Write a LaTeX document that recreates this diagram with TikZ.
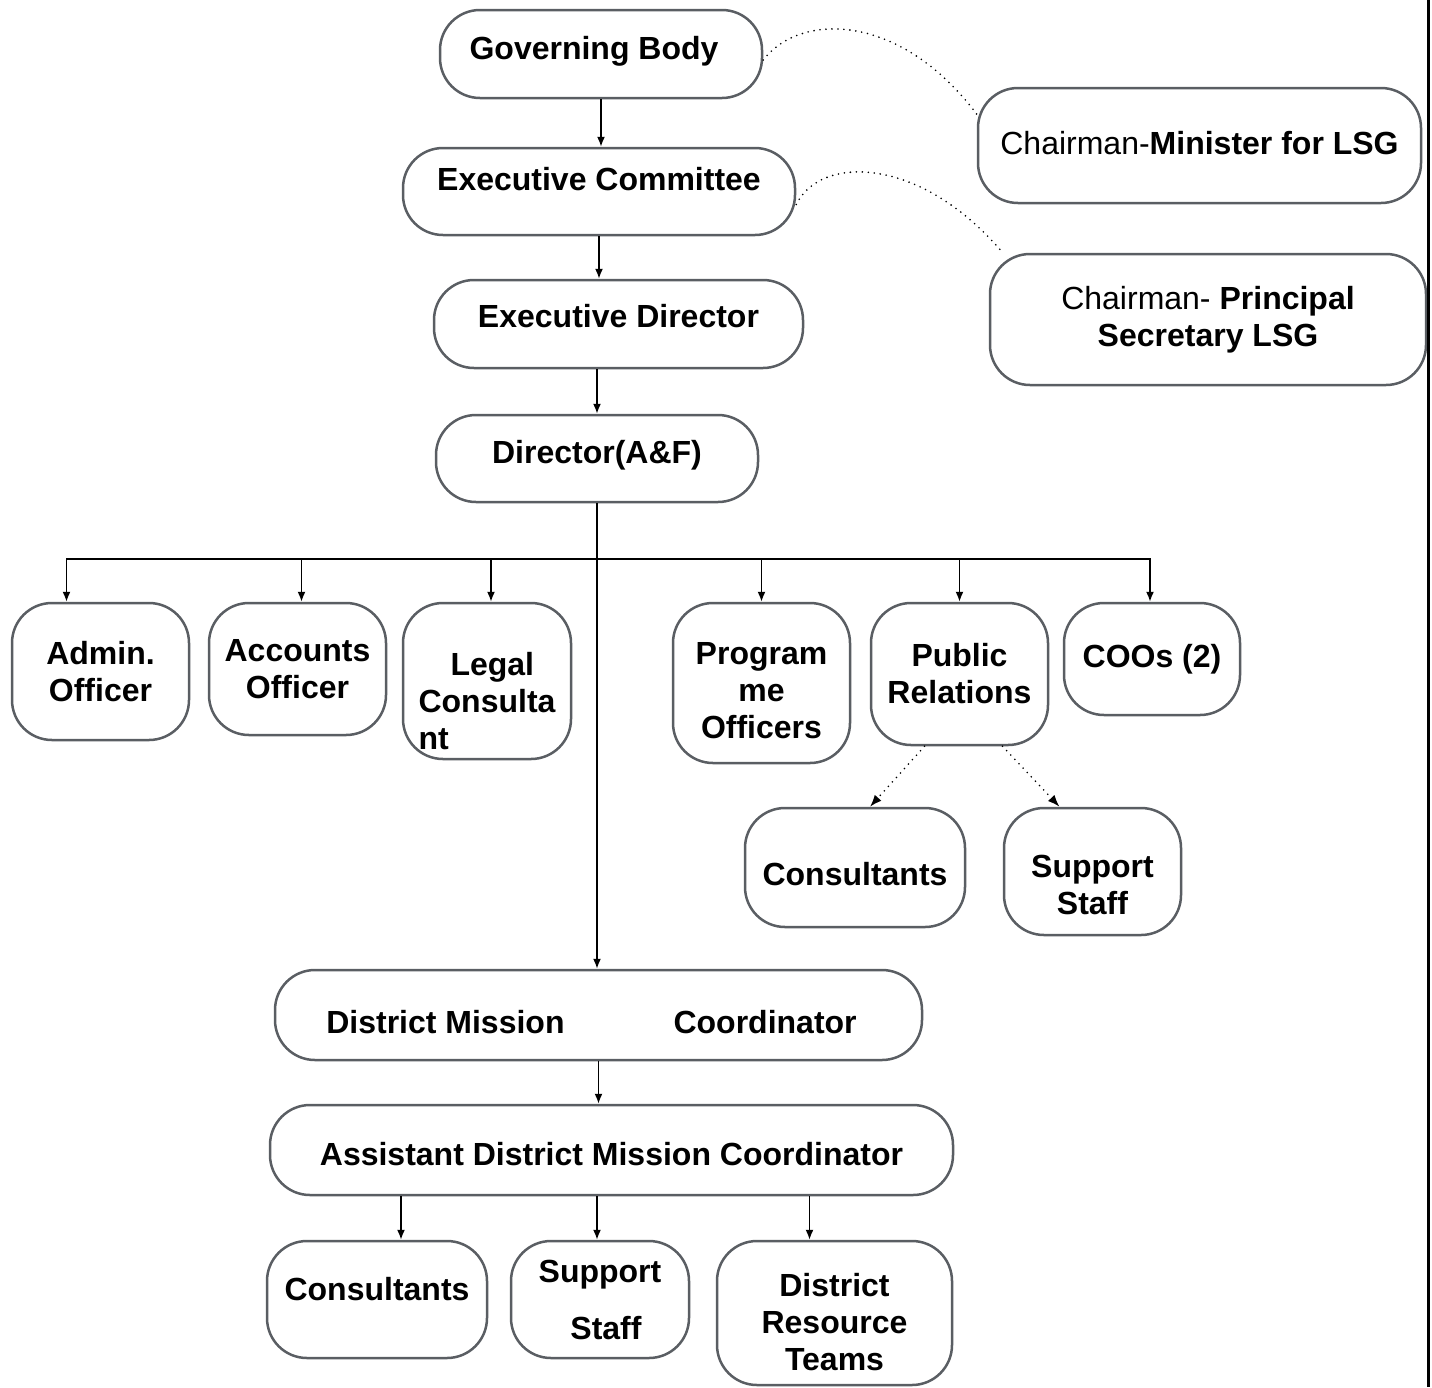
\documentclass[tikz,border=0pt]{standalone}
\usepackage{fontspec}
\setmainfont{Liberation Sans}
\usetikzlibrary{arrows.meta}
\definecolor{boxline}{HTML}{5A5E63}

\begin{document}
\begin{tikzpicture}[x=1pt,y=-1pt,
  every node/.style={font=\fontsize{32}{37}\selectfont\bfseries},
  box/.style={draw=boxline,line width=2.5pt,rounded corners=40pt,inner sep=0pt,align=center},
  one/.style={text height=24pt,text depth=7pt},
  arr/.style={-{Latex[length=10pt,width=8pt]},line width=1.6pt},
  dotarr/.style={-{Latex[length=12pt,width=9pt]},line width=1.8pt,line cap=round,dash pattern=on 0pt off 6pt},
  dotlink/.style={line width=1.8pt,line cap=round,dash pattern=on 0pt off 6pt}]

\useasboundingbox (0,0) rectangle (1432,1387);

\node[box,one,text depth=13pt,minimum width=322pt,minimum height=88pt] (gb) at (601,54) {\hspace*{-14pt}Governing Body};
\node[box,one,text depth=26pt,minimum width=392pt,minimum height=87pt] (ec) at (599,191.5) {Executive Committee};
\node[box,one,text depth=17pt,minimum width=369pt,minimum height=88pt] (ed) at (618.5,324) {Executive Director};
\node[box,one,text depth=14pt,minimum width=322pt,minimum height=87pt] (dir) at (597,458.5) {Director(A\&F)};

\node[box,one,minimum width=443pt,minimum height=115pt] (cm) at (1199.5,145.5) {\textmd{Chairman-}Minister for LSG};
\node[box,minimum width=436pt,minimum height=131pt] (ps) at (1208,319.5) {\textmd{Chairman-} Principal\\Secretary LSG};

\coordinate (bus) at (600,559);
\node[box,minimum width=177pt,minimum height=137pt] (ao) at (100.5,671.5) {Admin.\\Officer};
\node[box,minimum width=177pt,minimum height=132pt] (acc) at (297.5,669) {Accounts\\Officer};
\node[box,align=left,minimum width=168pt,minimum height=156pt] (lc) at (487,681) {\rule{0pt}{64pt}\hspace*{32pt}Legal\\Consulta\\nt};
\node[box,minimum width=177pt,minimum height=160pt] (po) at (761.5,683) {\rule{0pt}{38pt}Program\\me\\Officers};
\node[box,minimum width=177pt,minimum height=142pt] (pr) at (959.5,674) {Public\\Relations};
\node[box,one,minimum width=176pt,minimum height=112pt] (coo) at (1152,659) {COOs (2)};

\node[box,one,text height=43pt,minimum width=220pt,minimum height=119pt] (prc) at (855,867.5) {Consultants};
\node[box,minimum width=177pt,minimum height=127pt] (prs) at (1092.5,871.5) {\rule{0pt}{49pt}Support\\Staff};

\node[box,one,text height=44pt,minimum width=647pt,minimum height=90pt] (dmc) at (598.5,1015) {\hspace*{-14pt}District Mission\hspace{109pt}Coordinator};
\node[box,one,text height=38pt,minimum width=683pt,minimum height=90pt] (admc) at (611.5,1150) {Assistant District Mission Coordinator};

\node[box,one,text depth=22pt,minimum width=220pt,minimum height=117pt] (cs) at (377,1299.5) {Consultants};
\node[box,minimum width=178pt,minimum height=117pt] (ss) at (600,1299.5) {Support\\[20pt]\hspace*{12pt}Staff};
\node[box,minimum width=235pt,minimum height=144pt] (drt) at (834.5,1313) {\rule{0pt}{42pt}District\\Resource\\Teams};

\draw[arr] (gb.south) -- (gb.south |- ec.north);
\draw[arr] (ec.south) -- (ec.south |- ed.north);
\draw[arr] (dir.north |- ed.south) -- (dir.north);
\foreach \c/\dx in {ao/-34,acc/4,lc/4,po/0,pr/0,coo/-2}
  \draw[arr] (dir.south) -- (dir.south |- bus) -| ([xshift=\dx pt]\c.north);
\draw[arr] (dir.south) -- (dir.south |- dmc.north);
\draw[dotarr] ([xshift=-35pt]pr.south) -- ([xshift=15pt]prc.north);
\draw[dotarr] ([xshift=43pt]pr.south) -- ([xshift=-33pt]prs.north);
\draw[arr] (dmc.south) -- (dmc.south |- admc.north);
\foreach \c/\dx in {cs/24,ss/-3,drt/-25}
  \draw[arr] ([xshift=\dx pt]\c.north |- admc.south) -- ([xshift=\dx pt]\c.north);

\draw[dotlink] ([yshift=-6pt]gb.east) .. controls (800,12) and (900,12) .. (cm.172);
\draw[dotlink] ([yshift=-13pt]ec.east) .. controls (820,155) and (920,155) .. ([xshift=14pt]ps.north west);

\draw[line width=3pt] (1428,0) -- (1428,1387);
\end{tikzpicture}
\end{document}
